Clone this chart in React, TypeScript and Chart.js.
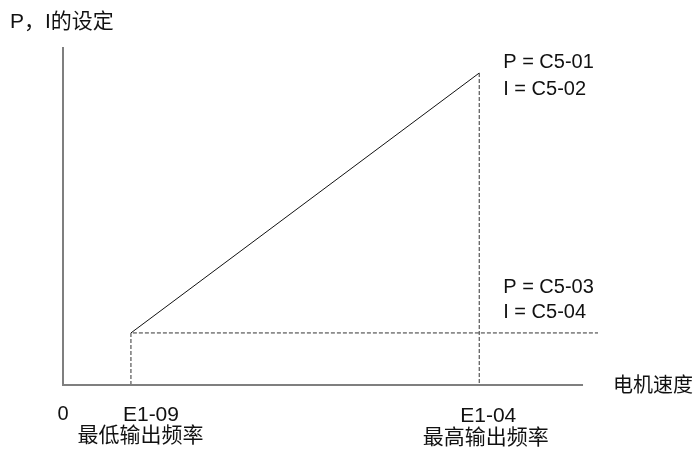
import React, { useEffect, useRef } from "react";
import { Chart, registerables } from "chart.js";

Chart.register(...registerables);

// Speed axis (percentage of drawn axis range)
const speedRange = [0, 100];
const axisEndSpeed = 97.2;
const minFreq = 12.7; // E1-09
const maxFreq = 77.8; // E1-04
// P, I setting axis
const piRange = [0, 100];
const piLow = 15.4; // C5-03 / C5-04
const piHigh = 92.3; // C5-01 / C5-02

const xLabels = ["0", "E1-09", "E1-04"];
const xSubLabels = ["最低输出频率", "最高输出频率"];
const highLabels = ["P = C5-01", "I = C5-02"];
const lowLabels = ["P = C5-03", "I = C5-04"];
const yTitle = "P，I的设定";
const xTitle = "电机速度";

const FAM = "'Liberation Sans', Arial, 'Noto Sans CJK SC', sans-serif";

const labelPlugin = {
  id: "labels",
  afterDraw(chart: any) {
    const ctx = chart.ctx;
    const xs = chart.scales.x;
    const ys = chart.scales.y;
    const x0 = xs.getPixelForValue(0);
    const xMin = xs.getPixelForValue(minFreq);
    const xMax = xs.getPixelForValue(maxFreq);
    const xEnd = xs.getPixelForValue(axisEndSpeed);
    const y0 = ys.getPixelForValue(0);
    const yTop = ys.getPixelForValue(piRange[1]);
    const yLow = ys.getPixelForValue(piLow);
    const yHigh = ys.getPixelForValue(piHigh);
    ctx.save();
    ctx.fillStyle = "#111111";
    ctx.textBaseline = "alphabetic";

    ctx.font = "21px " + FAM;
    ctx.textAlign = "left";
    ctx.fillText(yTitle, x0 - 53, yTop - 19);

    ctx.font = "20px " + FAM;
    ctx.textAlign = "center";
    ctx.fillText(xLabels[0], x0, y0 + 35);
    ctx.font = "21px " + FAM;
    ctx.textAlign = "left";
    ctx.fillText(xLabels[1], xMin - 8, y0 + 36);
    ctx.fillText(xLabels[2], xMax - 19, y0 + 37);

    ctx.font = "21px " + FAM;
    ctx.textAlign = "center";
    ctx.textBaseline = "middle";
    ctx.fillText(xSubLabels[0], xMin + 9.5, y0 + 51);
    ctx.fillText(xSubLabels[1], xMax + 6.5, y0 + 53);

    ctx.font = "20px " + FAM;
    ctx.textAlign = "left";
    ctx.fillText(xTitle, xEnd + 30, y0 + 1);

    ctx.textBaseline = "alphabetic";
    ctx.fillText(highLabels[0], xMax + 24, yHigh - 5);
    ctx.fillText(highLabels[1], xMax + 24, yHigh + 22);
    ctx.fillText(lowLabels[0], xMax + 24, yLow - 40);
    ctx.fillText(lowLabels[1], xMax + 24, yLow - 15);
    ctx.restore();
  },
};

export default function App() {
  const ref = useRef<HTMLCanvasElement | null>(null);
  useEffect(() => {
    document.body.style.margin = "0";
    const axisStyle = { borderColor: "#7f7f7f", borderWidth: 2 };
    const dashStyle = { borderColor: "#333333", borderWidth: 1, borderDash: [4, 2] };
    const chart = new Chart(ref.current as HTMLCanvasElement, {
      type: "scatter",
      data: {
        datasets: [
          {
            data: [
              { x: 0, y: piRange[1] },
              { x: 0, y: 0 },
              { x: axisEndSpeed, y: 0 },
            ],
            ...axisStyle,
          },
          {
            data: [
              { x: minFreq, y: 0 },
              { x: minFreq, y: piLow },
              { x: speedRange[1], y: piLow },
            ],
            ...dashStyle,
          },
          {
            data: [
              { x: maxFreq, y: piHigh },
              { x: maxFreq, y: 0 },
            ],
            ...dashStyle,
          },
          {
            data: [
              { x: minFreq, y: piLow },
              { x: maxFreq, y: piHigh },
            ],
            borderColor: "#111111",
            borderWidth: 1,
          },
        ].map((d: any) => ({
          ...d,
          showLine: true,
          pointRadius: 0,
          fill: false,
          tension: 0,
          clip: false,
        })),
      },
      options: {
        animation: false,
        responsive: false,
        events: [],
        layout: { padding: { left: 63, right: 98, top: 47, bottom: 67 } },
        plugins: { legend: { display: false }, tooltip: { enabled: false } },
        scales: {
          x: { type: "linear", display: false, min: speedRange[0], max: speedRange[1] },
          y: { type: "linear", display: false, min: piRange[0], max: piRange[1] },
        },
      },
      plugins: [labelPlugin],
    } as any);
    return () => chart.destroy();
  }, []);
  return (
    <div style={{ width: 696, height: 452, background: "#fff" }}>
      <canvas ref={ref} width={696} height={452} />
    </div>
  );
}
